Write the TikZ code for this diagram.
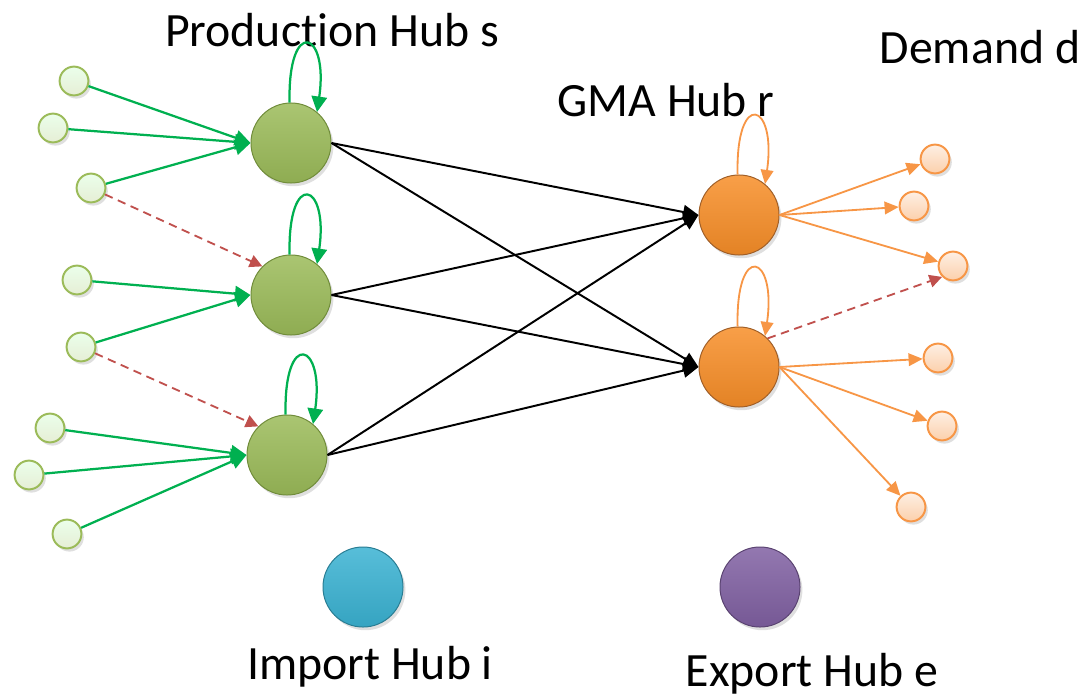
\documentclass[tikz,border=0pt]{standalone}
\usepackage{fontspec}
\setmainfont{Carlito}[Ligatures=NoCommon]
\usepackage{tikz}
\definecolor{hubgreen}{RGB}{155,187,89}
\definecolor{rimgreen}{RGB}{112,140,58}
\definecolor{huborange}{RGB}{247,142,40}
\definecolor{rimorange}{RGB}{160,95,40}
\definecolor{hubblue}{RGB}{58,178,210}
\definecolor{hubpurple}{RGB}{128,96,162}
\definecolor{flowgreen}{RGB}{0,176,80}
\definecolor{floworange}{RGB}{247,150,70}
\definecolor{flowred}{RGB}{192,80,77}
\usetikzlibrary{arrows.meta, shadows}
\tikzstyle{ball} = [circle, inner sep=0pt, line width=0.7pt, drop shadow={opacity=0.25, shadow xshift=0.6mm, shadow yshift=-0.8mm}]
\tikzstyle{hub} = [ball, minimum size=2cm]
\tikzstyle{prodhub} = [hub, draw=rimgreen, top color=hubgreen!85!white, middle color=hubgreen, bottom color=hubgreen!92!black]
\tikzstyle{gmahub} = [hub, draw=rimorange, top color=huborange!85!white, middle color=huborange, bottom color=huborange!92!black]
\tikzstyle{tiny} = [ball, minimum size=0.72cm, line width=1.4pt]
\tikzstyle{supply} = [tiny, draw=hubgreen, top color=white!92!green, bottom color=hubgreen!25!white]
\tikzstyle{demand} = [tiny, draw=floworange, top color=floworange!15!white, bottom color=floworange!45!white]
\tikzstyle{lbl} = [font=\fontsize{34}{40}\selectfont, inner sep=0pt]
\tikzstyle{inflow} = [flowgreen, line width=1.6pt, -{Triangle[length=11pt, width=11pt]}]
\tikzstyle{outflow} = [floworange, line width=1.3pt, -{Triangle[length=10pt, width=9pt]}]
\tikzstyle{trade} = [black, line width=1.4pt, -{Triangle[length=11pt, width=10pt]}]
\tikzstyle{spill} = [flowred, line width=1.3pt, dash pattern=on 6pt off 4pt, -{Triangle[length=9pt, width=9pt]}]

\begin{document}
\begin{tikzpicture}[x=0.025cm, y=-0.025cm]
    \useasboundingbox (0,0) rectangle (1083,697);

    % Place the hubs
    \node [prodhub] (P1) at (291,143) {};
    \node [prodhub] (P2) at (291,295) {};
    \node [prodhub] (P3) at (287,455) {};
    \node [gmahub] (R1) at (739,215) {};
    \node [gmahub] (R2) at (739,367) {};
    \node [hub, draw=hubblue!70!black, top color=hubblue!85!white, middle color=hubblue, bottom color=hubblue!92!black] (imp) at (363,587) {};
    \node [hub, draw=hubpurple!70!black, top color=hubpurple!85!white, middle color=hubpurple, bottom color=hubpurple!92!black] (exp) at (760,587) {};

    % Place the wells and the customers
    \node [supply] (g1) at (74,81) {};
    \node [supply] (g2) at (53,128) {};
    \node [supply] (g3) at (91,188) {};
    \node [supply] (g4) at (77,280) {};
    \node [supply] (g5) at (81,347) {};
    \node [supply] (g6) at (50,428) {};
    \node [supply] (g7) at (29,475) {};
    \node [supply] (g8) at (67,534) {};
    \node [demand] (d1) at (935,159) {};
    \node [demand] (d2) at (914,206) {};
    \node [demand] (d3) at (953,266) {};
    \node [demand] (d4) at (938,358) {};
    \node [demand] (d5) at (942,426) {};
    \node [demand] (d6) at (911,507) {};

    % Labels
    \node [lbl] (prodlbl) at (332,30) {Production Hub s};
    \node [lbl] (gmalbl) at (666,100) {GMA Hub r};
    \node [lbl] (demlbl) at (980,47) {Demand d};
    \node [lbl] (implbl) at (370,667) {Import Hub i};
    \node [lbl] (explbl) at (812,674) {Export Hub e};

    % Connect the nodes
    \foreach \s/\p in {g1/P1, g2/P1, g3/P1, g4/P2, g5/P2, g6/P3, g7/P3, g8/P3}
        \draw [inflow] (\s) -- (\p.west);
    \foreach \p in {P1, P2, P3}
        \foreach \r in {R1, R2}
            \draw [trade] (\p.east) -- (\r.west);
    \foreach \r/\d in {R1/d1, R1/d2, R1/d3, R2/d4, R2/d5, R2/d6}
        \draw [outflow] (\r.east) -- (\d);
    \draw [spill] (g3) -- (P2.135);
    \draw [spill] (g5) -- (P3.135);
    \draw [spill] (R2.45) -- (d3.225);

    % Storage loops
    \foreach \p in {P1, P2, P3}
        \draw [inflow] (\p.92) .. controls +(-2,-86) and +(12,-82) .. (\p.50);
    \foreach \r in {R1, R2}
        \draw [outflow] (\r.92) .. controls +(-2,-86) and +(12,-82) .. (\r.50);
\end{tikzpicture}
\end{document}
